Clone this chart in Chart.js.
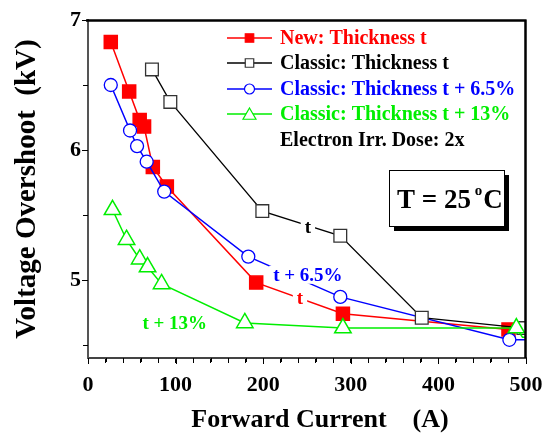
<!DOCTYPE html>
<html>
<head>
<meta charset="utf-8">
<script src="https://cdn.jsdelivr.net/npm/chart.js@4"></script>
<style>
  html, body { margin: 0; padding: 0; background: #fff; }
</style>
</head>
<body>
<canvas id="c" width="545" height="436"></canvas>
<script>
// forward current (A) / overshoot (kV)
var newT_x = [26, 47, 59, 64, 74, 90, 192, 291, 480];
var newT_y = [6.83, 6.45, 6.23, 6.18, 5.87, 5.72, 4.98, 4.74, 4.62];
var clsT_x = [73, 94, 199, 288, 381, 497];
var clsT_y = [6.62, 6.37, 5.53, 5.34, 4.71, 4.63];
var cls65_x = [26, 48, 56, 67, 87, 183, 288, 481, 500];
var cls65_y = [6.50, 6.15, 6.03, 5.91, 5.68, 5.18, 4.87, 4.54, 4.54];
var cls13_x = [28, 44, 59, 68, 84, 179, 291, 489, 496, 500];
var cls13_y = [5.54, 5.31, 5.16, 5.10, 4.97, 4.67, 4.63, 4.63, 4.56, 4.56];

var xTicks = [0, 100, 200, 300, 400, 500];
var yTicks = [5, 6, 7];
var xMinorStep = 20;
var yMinorStep = 0.5;
var seriesNames = ['New: Thickness t', 'Classic: Thickness t', 'Classic: Thickness t + 6.5%', 'Classic: Thickness t + 13%'];
var noteText = 'Electron Irr. Dose: 2x';

var SERIF = "'Liberation Serif', 'Times New Roman', serif";

function pts(xs, ys) {
    var out = [];
    for (var i = 0; i < xs.length; i++) out.push({x: xs[i], y: ys[i]});
    return out;
}

function stepTicks(lo, hi, step) {
    var out = [];
    for (var v = lo; v <= hi + 1e-9; v += step) out.push({value: Math.round(v * 100) / 100});
    return out;
}

function drawFrame(chart) {
    var c = chart.ctx;
    var xs = chart.scales.x, ys = chart.scales.y;
    var L = xs.left, R = xs.right, T = ys.top, B = ys.bottom;
    c.save();
    c.strokeStyle = '#000';
    c.lineWidth = 2;
    c.beginPath();
    c.moveTo(L - 2, T + 0.5);
    c.lineTo(R - 0.5, T + 0.5);
    c.lineTo(R - 0.5, B);
    c.stroke();
    // outward ticks, long at labelled values
    c.lineWidth = 1;
    c.beginPath();
    stepTicks(0, 500, xMinorStep).forEach(function(t) {
        var px = Math.round(xs.getPixelForValue(t.value)) + 0.5;
        c.moveTo(px, B);
        c.lineTo(px, B + (xTicks.indexOf(t.value) >= 0 ? 6 : 4));
    });
    stepTicks(4.5, 7, yMinorStep).forEach(function(t) {
        var py = Math.round(ys.getPixelForValue(t.value)) + 0.5;
        c.moveTo(L, py);
        c.lineTo(L - (yTicks.indexOf(t.value) >= 0 ? 6 : 4), py);
    });
    c.stroke();
    c.restore();
}

// frame, inline labels, legend, temperature box, x title
var decor = {
    id: 'decor',
    afterDatasetsDraw: function(chart) {
        drawFrame(chart);
    },
    afterDraw: function(chart) {
        var ctx = chart.ctx;
        var xs = chart.scales.x, ys = chart.scales.y;
        drawFrame(chart);
        ctx.save();

        // inline curve labels with white knock-out
        var labels = [
            {t: 't', x: 251, y: 5.41, c: '#000'},
            {t: 't + 6.5%', x: 251, y: 5.04, c: '#0000ff'},
            {t: 't', x: 242, y: 4.86, c: '#ff0000'},
            {t: 't + 13%', x: 99, y: 4.67, c: '#00ee00'}
        ];
        ctx.font = 'bold 19px ' + SERIF;
        ctx.textAlign = 'center';
        ctx.textBaseline = 'middle';
        labels.forEach(function(l) {
            var lx = xs.getPixelForValue(l.x), ly = ys.getPixelForValue(l.y);
            var tw = ctx.measureText(l.t).width;
            ctx.fillStyle = '#fff';
            ctx.fillRect(lx - tw / 2 - 4, ly - 9, tw + 8, 18);
            ctx.fillStyle = l.c;
            ctx.fillText(l.t, lx, ly + 1);
        });

        // legend
        var lx0 = 227, lx1 = 272, tx = 280;
        var rows = [38, 63, 89, 114];
        ctx.font = 'bold 20px ' + SERIF;
        ctx.textAlign = 'left';
        chart.data.datasets.forEach(function(ds, i) {
            var yy = rows[i];
            ctx.strokeStyle = ds.borderColor;
            ctx.lineWidth = 1.5;
            ctx.beginPath();
            ctx.moveTo(lx0, yy);
            ctx.lineTo(lx1, yy);
            ctx.stroke();
            ctx.fillStyle = ds.pointBackgroundColor;
            ctx.strokeStyle = ds.pointBorderColor;
            ctx.lineWidth = 1.2;
            Chart.helpers.drawPoint(ctx, {
                pointStyle: ds.pointStyle,
                radius: ds.pointStyle === 'triangle' ? 7.5 : (ds.pointStyle === 'circle' ? 5 : 6),
                borderWidth: 1.2
            }, (lx0 + lx1) / 2, yy + (ds.pointStyle === 'triangle' ? 1.5 : 0));
            ctx.fillStyle = ds.legendTextColor;
            ctx.fillText(seriesNames[i], tx, yy + 1);
        });
        ctx.fillStyle = '#000';
        ctx.fillText(noteText, tx, 141);

        // T = 25 C box
        var bx = 389, by = 170, bw = 115, bh = 56;
        ctx.fillStyle = '#000';
        ctx.fillRect(bx + 5, by + 5, bw, bh);
        ctx.fillStyle = '#fff';
        ctx.fillRect(bx, by, bw, bh);
        ctx.strokeStyle = '#000';
        ctx.lineWidth = 1;
        ctx.strokeRect(bx + 0.5, by + 0.5, bw, bh);
        ctx.fillStyle = '#000';
        ctx.textBaseline = 'alphabetic';
        var big = 'bold 27px ' + SERIF, small = 'bold 15px ' + SERIF;
        ctx.font = big;
        var s1 = 'T = 25 ';
        var w1 = ctx.measureText(s1).width;
        ctx.font = small;
        var w2 = ctx.measureText('o').width;
        var sx = bx + 8;
        var base = by + 38;
        ctx.font = big;
        ctx.fillText(s1, sx, base);
        ctx.font = small;
        ctx.fillText('o', sx + w1 - 3, base - 13);
        ctx.font = big;
        ctx.fillText('C', sx + w1 + w2 - 2, base);

        // x axis title
        ctx.font = 'bold 26px ' + SERIF;
        ctx.textAlign = 'center';
        ctx.textBaseline = 'middle';
        ctx.fillText('Forward Current    (A)', 320, 420);
        ctx.restore();
    }
};

var tickFont = { family: SERIF, size: 22, weight: 'bold' };

var ctx = document.getElementById('c');
var chart = new Chart(ctx, {
    type: 'scatter',
    data: {
        datasets: [
            {
                label: seriesNames[0],
                data: pts(newT_x, newT_y),
                showLine: true,
                borderColor: '#ff0000',
                backgroundColor: '#ff0000',
                pointBackgroundColor: '#ff0000',
                pointBorderColor: '#ff0000',
                pointStyle: 'rect',
                pointRadius: 9.2,
                borderWidth: 1.5,
                legendTextColor: '#ff0000',
                order: 4
            },
            {
                label: seriesNames[1],
                data: pts(clsT_x, clsT_y),
                showLine: true,
                borderColor: '#000000',
                backgroundColor: '#ffffff',
                pointBackgroundColor: '#ffffff',
                pointBorderColor: '#333333',
                pointStyle: 'rect',
                pointRadius: 9,
                pointBorderWidth: 1.3,
                borderWidth: 1.3,
                legendTextColor: '#000000',
                order: 2
            },
            {
                label: seriesNames[2],
                data: pts(cls65_x, cls65_y),
                showLine: true,
                borderColor: '#0000ff',
                backgroundColor: '#ffffff',
                pointBackgroundColor: '#ffffff',
                pointBorderColor: '#0000ff',
                pointStyle: 'circle',
                pointRadius: [6.5, 6.5, 6.5, 6.5, 6.5, 6.5, 6.5, 6.5, 0],
                pointBorderWidth: 1.3,
                borderWidth: 1.5,
                legendTextColor: '#0000ff',
                order: 3
            },
            {
                label: seriesNames[3],
                data: pts(cls13_x, cls13_y),
                showLine: true,
                borderColor: '#00ee00',
                backgroundColor: '#ffffff',
                pointBackgroundColor: '#ffffff',
                pointBorderColor: '#00ee00',
                pointStyle: 'triangle',
                pointRadius: [9.5, 9.5, 9.5, 9.5, 9.5, 9.5, 9.5, 9.5, 0, 0],
                pointBorderWidth: 1.5,
                borderWidth: 1.5,
                legendTextColor: '#00ee00',
                order: 1
            }
        ]
    },
    options: {
        responsive: false,
        animation: false,
        layout: { padding: { top: 20, right: 19, left: 0, bottom: 0 } },
        plugins: {
            legend: { display: false },
            tooltip: { enabled: false }
        },
        scales: {
            x: {
                type: 'linear',
                position: 'bottom',
                min: 0,
                max: 500,
                afterBuildTicks: function(s) { s.ticks = stepTicks(0, 500, xMinorStep); },
                afterFit: function(s) { s.height = 78; s.paddingLeft = 0; s.paddingRight = 0; },
                grid: { display: true, drawOnChartArea: false, drawTicks: true, tickLength: 5, color: '#000', lineWidth: 1 },
                border: { display: true, color: '#444', width: 2 },
                ticks: {
                    padding: 9,
                    color: '#000',
                    maxRotation: 0,
                    autoSkip: false,
                    font: tickFont,
                    callback: function(v) { return xTicks.indexOf(v) >= 0 ? String(v) : ''; }
                }
            },
            y: {
                type: 'linear',
                position: 'left',
                min: 4.4,
                max: 7,
                afterBuildTicks: function(s) { s.ticks = stepTicks(4.5, 7, yMinorStep); },
                afterFit: function(s) { s.width = 88; s.paddingTop = 0; s.paddingBottom = 0; },
                grid: { display: true, drawOnChartArea: false, drawTicks: true, tickLength: 5, color: '#000', lineWidth: 1 },
                border: { display: true, color: '#555', width: 2 },
                ticks: {
                    padding: 2,
                    color: '#000',
                    autoSkip: false,
                    font: tickFont,
                    callback: function(v) { return yTicks.indexOf(v) >= 0 ? String(v) : ''; }
                },
                title: {
                    display: true,
                    text: 'Voltage Overshoot  (kV)',
                    color: '#000',
                    font: { family: SERIF, size: 29, weight: 'bold' },
                    padding: { top: 10, bottom: 0 }
                }
            }
        }
    },
    plugins: [decor]
});
</script>
</body>
</html>
